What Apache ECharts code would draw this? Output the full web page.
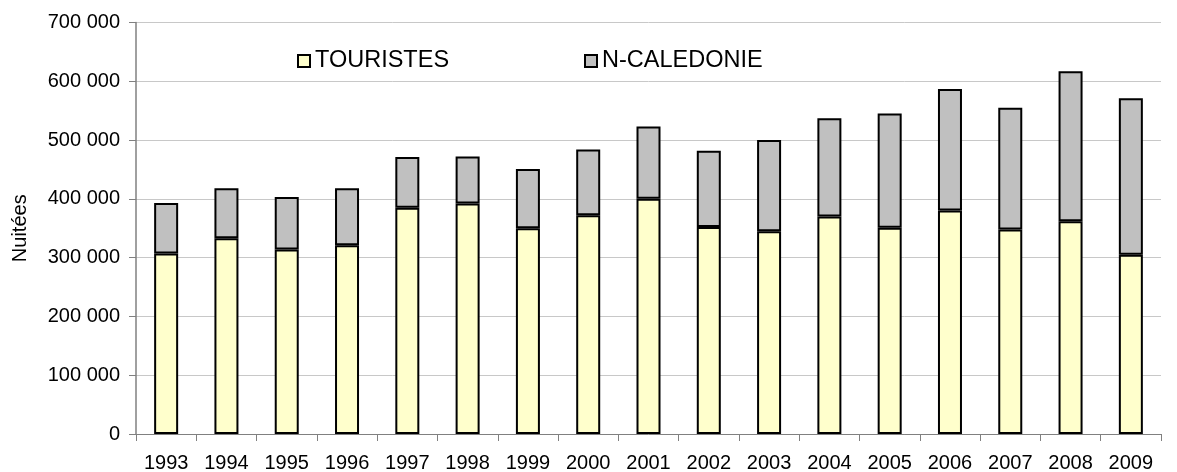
<!DOCTYPE html>
<html>
<head>
<meta charset="utf-8">
<script src="https://cdn.jsdelivr.net/npm/echarts@6/dist/echarts.min.js"></script>
<style>
html,body{margin:0;padding:0;background:#fff;}
#chart{width:1177px;height:472px;}
</style>
</head>
<body>
<div id="chart"></div>
<script>
var years = ['1993','1994','1995','1996','1997','1998','1999','2000','2001','2002','2003','2004','2005','2006','2007','2008','2009'];
var touristes = [307000, 333000, 314000, 321000, 385000, 392000, 350000, 372000, 400000, 352000, 345000, 370000, 351000, 380000, 348000, 362000, 305000];
var totals = [393000, 418000, 403000, 418000, 471000, 472000, 451000, 484000, 523000, 482000, 500000, 537000, 545000, 587000, 555000, 617000, 571000];
var caledonie = totals.map(function (t, i) { return t - touristes[i]; });
var yTicks = { min: 0, max: 700000, interval: 100000 };

function fmt(v) {
  return String(v).replace(/\B(?=(\d{3})+(?!\d))/g, ' ');
}

var font = 'Liberation Sans, Arial, sans-serif';
var legendText = { fontSize: 23.5, color: '#000', fontFamily: font };
var chart = echarts.init(document.getElementById('chart'), null, { renderer: 'canvas' });
chart.setOption({
  animation: false,
  backgroundColor: '#ffffff',
  textStyle: { fontFamily: font },
  legend: [
    {
      data: ['TOURISTES'], left: 297, top: 49, padding: 0, icon: 'rect', itemWidth: 12, itemHeight: 12, itemGap: 3,
      textStyle: legendText,
      itemStyle: { borderColor: '#000', borderWidth: 2 }
    },
    {
      data: ['N-CALEDONIE'], left: 584, top: 49, padding: 0, icon: 'rect', itemWidth: 12, itemHeight: 12, itemGap: 3,
      textStyle: legendText,
      itemStyle: { borderColor: '#000', borderWidth: 2 }
    }
  ],
  grid: { left: 136, right: 16, top: 22.5, bottom: 38, containLabel: false, outerBoundsMode: 'none' },
  xAxis: {
    type: 'category',
    data: years,
    boundaryGap: true,
    axisLine: { lineStyle: { color: '#808080', width: 1 } },
    axisTick: { show: true, length: 7, lineStyle: { color: '#808080' } },
    axisLabel: { color: '#000', fontSize: 20, margin: 19, fontFamily: font, interval: 0 }
  },
  yAxis: {
    type: 'value',
    min: yTicks.min, max: yTicks.max, interval: yTicks.interval,
    name: 'Nuitées',
    nameLocation: 'middle',
    nameRotate: 90,
    nameGap: 106,
    nameTextStyle: { color: '#000', fontSize: 20, fontFamily: font },
    axisLine: { show: true, lineStyle: { color: '#808080', width: 1.5 } },
    axisTick: { show: true, length: 7, lineStyle: { color: '#808080' } },
    axisLabel: { color: '#000', fontSize: 20, margin: 16, fontFamily: font, formatter: fmt },
    splitLine: { show: true, lineStyle: { color: '#c8c8c8', width: 1 } }
  },
  series: [
    {
      name: 'TOURISTES', type: 'bar', stack: 'total', data: touristes, barWidth: 24,
      itemStyle: { color: '#FFFFCC', borderColor: '#000', borderWidth: 2 }
    },
    {
      name: 'N-CALEDONIE', type: 'bar', stack: 'total', data: caledonie, barWidth: 24,
      itemStyle: { color: '#C0C0C0', borderColor: '#000', borderWidth: 2 }
    }
  ]
});
</script>
</body>
</html>
